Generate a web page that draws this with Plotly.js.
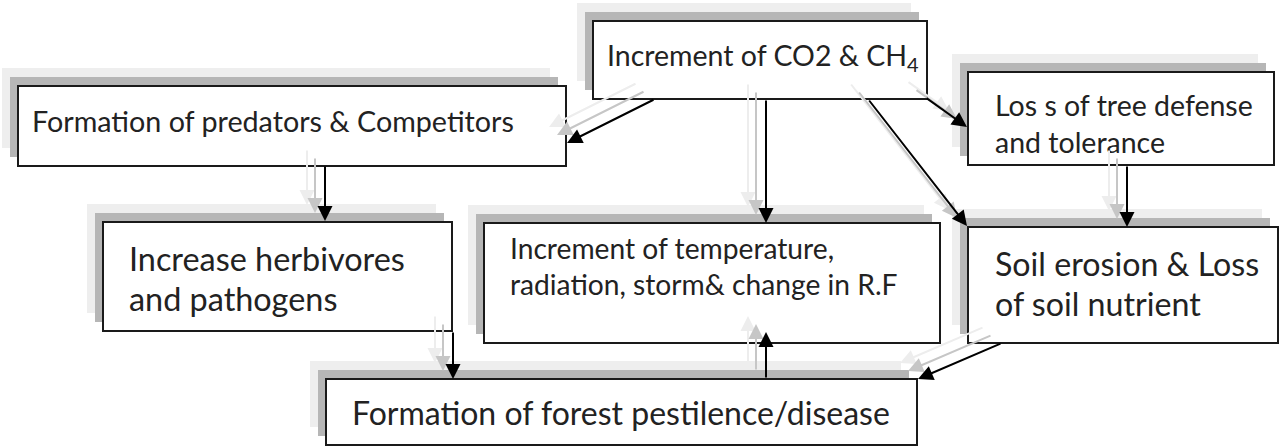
<!DOCTYPE html>
<html>
<head>
<meta charset="utf-8">
<script src="https://cdn.plot.ly/plotly-3.0.1.min.js"></script>
<style>html,body{margin:0;padding:0;background:#fff;}#chart{width:1279px;height:447px;}</style>
</head>
<body>
<div id="chart"></div>
<script>
// ---- content (data) ----
const nodeIds = ["co2", "pred", "loss", "herb", "temp", "soil", "pest"];
const nodeLines = [
  ["Increment of CO2 &amp; CH<sub>4</sub>"],
  ["Formation of predators &amp; Competitors"],
  ["Los s of tree defense", "and tolerance"],
  ["Increase herbivores", "and pathogens"],
  ["Increment of temperature,", "radiation, storm&amp; change in R.F"],
  ["Soil erosion &amp; Loss", "of soil nutrient"],
  ["Formation of forest pestilence/disease"]
];
const linkFrom = ["co2", "co2", "co2", "co2", "pred", "loss", "herb", "soil", "pest"];
const linkTo   = ["pred", "temp", "soil", "loss", "herb", "soil", "pest", "pest", "temp"];

// ---- geometry / styling (layout, pixels) ----
const boxGeom = {
  co2:  {x0: 593, y0: 21,  x1: 927,  y1: 99,  tx: 605, ty: [57], fs: 28.5},
  pred: {x0: 18,  y0: 86,  x1: 566,  y1: 166, tx: 30,  ty: [121], fs: 28.7},
  loss: {x0: 968, y0: 72,  x1: 1274, y1: 165, tx: 993, ty: [105, 142], fs: 28.5},
  herb: {x0: 103, y0: 222, x1: 452,  y1: 331, tx: 127, ty: [258, 298], fs: 32.4},
  temp: {x0: 484, y0: 223, x1: 940,  y1: 343, tx: 508, ty: [248, 284], fs: 28.2},
  soil: {x0: 968, y0: 227, x1: 1278, y1: 343, tx: 993, ty: [263, 303], fs: 32.2},
  pest: {x0: 326, y0: 379, x1: 917,  y1: 445, tx: 350, ty: [412], fs: 32.0}
};
// tail point, tip point per link (pixels)
const linkGeom = [
  [655, 99, 567, 143],
  [766, 99, 766, 223],
  [868, 99, 967, 226],
  [925, 97, 967, 127],
  [325, 165, 325, 221],
  [1127, 165, 1127, 227],
  [453, 331, 453, 379],
  [1002, 343, 918, 379],
  [766, 379, 766, 332]
];
const FONT = "Lato, 'Open Sans', sans-serif";

const shapes = [];
const annotations = [];

nodeIds.forEach((id, i) => {
  const g = boxGeom[id];
  const w = g.x1 - g.x0, h = g.y1 - g.y0;
  shapes.push({type: "rect", xref: "x", yref: "y", x0: g.x0 - 16, y0: g.y0 - 18, x1: g.x0 - 16 + w, y1: g.y0 - 18 + h,
    fillcolor: "#eeeeee", line: {width: 0}, layer: "below"});
  shapes.push({type: "rect", xref: "x", yref: "y", x0: g.x0 - 8, y0: g.y0 - 9, x1: g.x1 - 8, y1: g.y1 - 9,
    fillcolor: "#b6b6b6", line: {width: 0}, layer: "below"});
  shapes.push({type: "rect", xref: "x", yref: "y", x0: g.x0, y0: g.y0, x1: g.x1, y1: g.y1,
    fillcolor: "#ffffff", line: {color: "#1a1a1a", width: 2}, layer: "below"});
  nodeLines[i].forEach((txt, k) => {
    annotations.push({xref: "x", yref: "y", x: g.tx, y: g.ty[k], text: txt, showarrow: false,
      xanchor: "left", yanchor: "middle", align: "left",
      font: {family: FONT, size: g.fs, color: "#222222"}});
  });
});

function arrow(x0, y0, x1, y1, color, width, size) {
  return {xref: "x", yref: "y", axref: "x", ayref: "y", x: x1, y: y1, ax: x0, ay: y0,
    text: "", showarrow: true, arrowhead: 2, arrowsize: size, arrowwidth: width, arrowcolor: color, standoff: 0, startstandoff: 0};
}

linkFrom.forEach((f, i) => {
  const [x0, y0, x1, y1] = linkGeom[i];
  annotations.push(arrow(x0 - 18, y0 - 16, x1 - 18, y1 - 16, "#ededed", 2, 1.5));
});
linkFrom.forEach((f, i) => {
  const [x0, y0, x1, y1] = linkGeom[i];
  annotations.push(arrow(x0 - 10, y0 - 8, x1 - 10, y1 - 8, "#c6c6c6", 2, 1.5));
});
linkFrom.forEach((f, i) => {
  const [x0, y0, x1, y1] = linkGeom[i];
  annotations.push(arrow(x0, y0, x1, y1, "#000000", 2, 1.5));
});

const layout = {
  width: 1279, height: 447,
  margin: {l: 0, r: 0, t: 0, b: 0, pad: 0},
  paper_bgcolor: "#ffffff", plot_bgcolor: "#ffffff",
  showlegend: false,
  xaxis: {range: [0, 1279], visible: false, fixedrange: true},
  yaxis: {range: [447, 0], visible: false, fixedrange: true},
  shapes: shapes,
  annotations: annotations
};

Plotly.newPlot("chart", [{x: [], y: [], type: "scatter", mode: "markers", hoverinfo: "skip"}], layout,
  {staticPlot: true, displayModeBar: false});
</script>
</body>
</html>
